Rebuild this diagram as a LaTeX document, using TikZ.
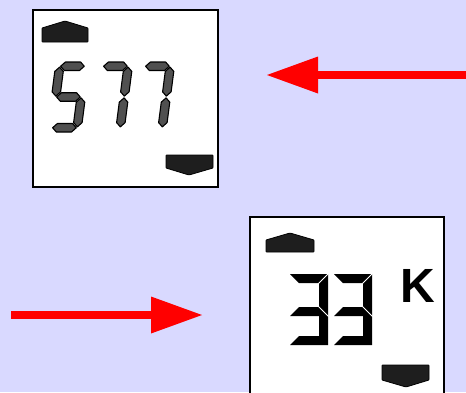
\documentclass[tikz,border=0pt]{standalone}
\usepackage{fontspec}
\newfontfamily\kfont{Liberation Sans}
\usetikzlibrary{arrows.meta}
\definecolor{bgc}{RGB}{217,217,255}
\definecolor{segfill}{RGB}{80,80,80}
\definecolor{indfill}{RGB}{30,30,30}
\newcommand{\segT}{8.5}
\newcommand{\segG}{0.9}
% horizontal segment: x1, x2, y-centre
\newcommand{\hsg}[3]{\filldraw[seg] ({#1+\segG},{#3}) -- ({#1+\segG+\segT/2},{#3-\segT/2}) -- ({#2-\segG-\segT/2},{#3-\segT/2}) -- ({#2-\segG},{#3}) -- ({#2-\segG-\segT/2},{#3+\segT/2}) -- ({#1+\segG+\segT/2},{#3+\segT/2}) -- cycle;}
% vertical segment: x-centre, y1, y2
\newcommand{\vsg}[3]{\filldraw[seg] ({#1},{#2+\segG}) -- ({#1+\segT/2},{#2+\segG+\segT/2}) -- ({#1+\segT/2},{#3-\segG-\segT/2}) -- ({#1},{#3-\segG}) -- ({#1-\segT/2},{#3-\segG-\segT/2}) -- ({#1-\segT/2},{#2+\segG+\segT/2}) -- cycle;}
\newcommand{\dfive}{\hsg{4.25}{29.75}{4.25}\vsg{4.25}{4.25}{35}\hsg{4.25}{29.75}{35}\vsg{29.75}{35}{65.75}\hsg{4.25}{29.75}{65.75}}
\newcommand{\dseven}{\hsg{4.25}{29.75}{4.25}\vsg{29.75}{4.25}{35}\vsg{29.75}{35}{65.75}}
\newcommand{\dthree}{%
  \fill[black] (0,0) -- (38,0) -- (38,42) -- (29,33) -- (29,9) -- (9,9) -- cycle;
  \fill[black] (0,42) -- (29,42) -- (29,62) -- (9,62) -- (0,71) -- (38,71) -- (38,42) -- (29,33) -- (9,33) -- cycle;
  \draw[white, line width=0.8pt] (28.5,9.5) -- (38.5,-0.5);
  \draw[white, line width=0.8pt] (28.5,32.5) -- (38.5,42.5);}
\tikzset{
  seg/.style={fill=segfill, draw=black, line width=1.1pt, line join=round},
  lcdbox/.style={draw=black, fill=white, line width=2pt, inner sep=0pt, outer sep=0pt},
  ind/.style={fill=indfill, draw=black, line width=0.8pt, rounded corners=0.6pt},
  redarrow/.style={draw=red, line width=7.5pt, -{Triangle[length=51pt, width=37pt, line width=0pt]}}
}
\begin{document}
\begin{tikzpicture}[x=1pt, y=-1pt]
\useasboundingbox (0,0) rectangle (466,392);
\fill[bgc] (0,0) rectangle (466,392);
\clip (0,0) rectangle (466,392);
% LCD box 1
\node[lcdbox, minimum width=185pt, minimum height=177pt] (lcdA) at (125.5,98.5) {};
\filldraw[ind] (42,42) -- (42,28) -- (65,21) -- (88,28) -- (88,42) -- cycle;
\filldraw[ind] (166,155) -- (213,155) -- (213,168) -- (189,175) -- (166,168) -- cycle;
\begin{scope}[shift={(56,62)}, xslant=0.13]\dfive\end{scope}
\begin{scope}[shift={(99,62)}, xslant=0.13]\dseven\end{scope}
\begin{scope}[shift={(141,62)}, xslant=0.13]\dseven\end{scope}
% LCD box 2
\node[lcdbox, minimum width=194pt, minimum height=186pt] (lcdB) at (347,310) {};
\filldraw[ind] (266,252) -- (266,240) -- (290,233) -- (314,240) -- (314,252) -- cycle;
\filldraw[ind] (382,365) -- (429,365) -- (429,380) -- (406,387) -- (382,380) -- cycle;
\begin{scope}[shift={(290,274)}]\dthree\end{scope}
\begin{scope}[shift={(334,274)}]\dthree\end{scope}
\node[anchor=base west, inner sep=0pt] (unitK) at (400,302) {\kfont\bfseries\fontsize{48}{48}\selectfont K};
% arrows
\coordinate (arrAfrom) at (472,75);
\coordinate (arrAto) at (267,75);
\coordinate (arrBfrom) at (11,315);
\coordinate (arrBto) at (202,315);
\draw[redarrow] (arrAfrom) -- (arrAto);
\draw[redarrow] (arrBfrom) -- (arrBto);
\end{tikzpicture}
\end{document}
